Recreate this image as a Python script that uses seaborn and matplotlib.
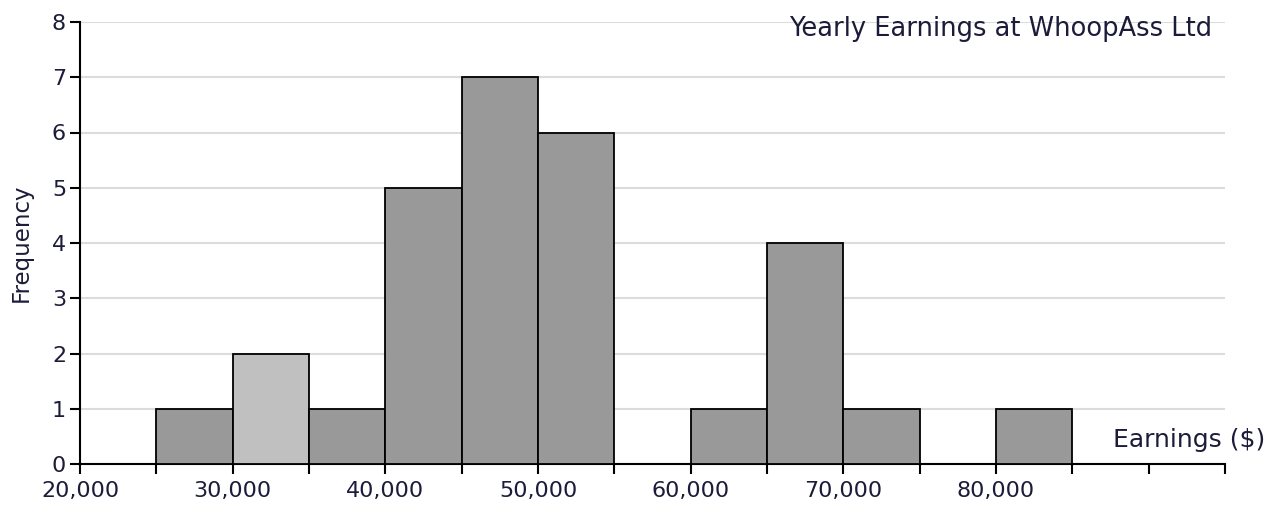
import numpy as np
import pandas as pd
import seaborn as sns
import matplotlib.pyplot as plt
from matplotlib.ticker import FuncFormatter, MultipleLocator

# histogram bins (lower edges) and counts
bin_lower = [25000, 30000, 35000, 40000, 45000, 50000, 55000, 60000, 65000, 70000, 75000, 80000]
counts = [1, 2, 1, 5, 7, 6, 0, 1, 4, 1, 0, 1]
bin_width = 5000
highlight_bin = 30000
x_tick_labels = [20000, 30000, 40000, 50000, 60000, 70000, 80000]

text_color = '#1c1c3a'

sns.set_style("ticks")
plt.rcParams['font.family'] = ['DejaVu Sans']
plt.rcParams['font.size'] = 16

df = pd.DataFrame({'Earnings': np.array(bin_lower) + bin_width / 2, 'Frequency': counts})
edges = list(bin_lower) + [bin_lower[-1] + bin_width]

fig = plt.figure(figsize=(12.79, 5.12), dpi=100)
ax = fig.add_axes([80 / 1279, 48 / 512, 1145 / 1279, 442 / 512])

hp = sns.histplot(data=df, x='Earnings', weights='Frequency', bins=edges, ax=ax,
                  color='#999999', alpha=1, edgecolor='black', linewidth=1.3, zorder=3)
for patch in ax.patches:
    if abs(patch.get_x() - highlight_bin) < 1:
        patch.set_facecolor('#c0c0c0')

ax.set_xlim(20000, 95000)
ax.set_ylim(0, 8)
ax.yaxis.set_major_locator(MultipleLocator(1))
ax.set_xticks(np.arange(20000, 95001, 5000))
ax.xaxis.set_major_formatter(FuncFormatter(lambda v, p: f'{int(v):,}' if v in x_tick_labels else ''))
ax.grid(axis='y', color='#dcdcdc', linewidth=1.5, zorder=0)
ax.set_axisbelow(True)

sns.despine(ax=ax)
for side in ['left', 'bottom']:
    ax.spines[side].set_color('black')
    ax.spines[side].set_linewidth(1.5)
ax.tick_params(axis='both', direction='out', length=7, width=1.5, color='black',
               labelcolor=text_color, labelsize=16)
ax.tick_params(axis='x', pad=5)
ax.tick_params(axis='y', pad=3)

ax.set_xlabel('')
ax.set_ylabel('Frequency', color=text_color, fontsize=16.5, labelpad=14)
fig.text(1265 / 1279, 1 - 440 / 512, 'Earnings ($)', ha='right', va='center',
         color=text_color, fontsize=18)
fig.text(1212 / 1279, 1 - 29 / 512, 'Yearly Earnings at WhoopAss Ltd', ha='right', va='center',
         color=text_color, fontsize=18.5)

fig.savefig('out.png', dpi=100)
